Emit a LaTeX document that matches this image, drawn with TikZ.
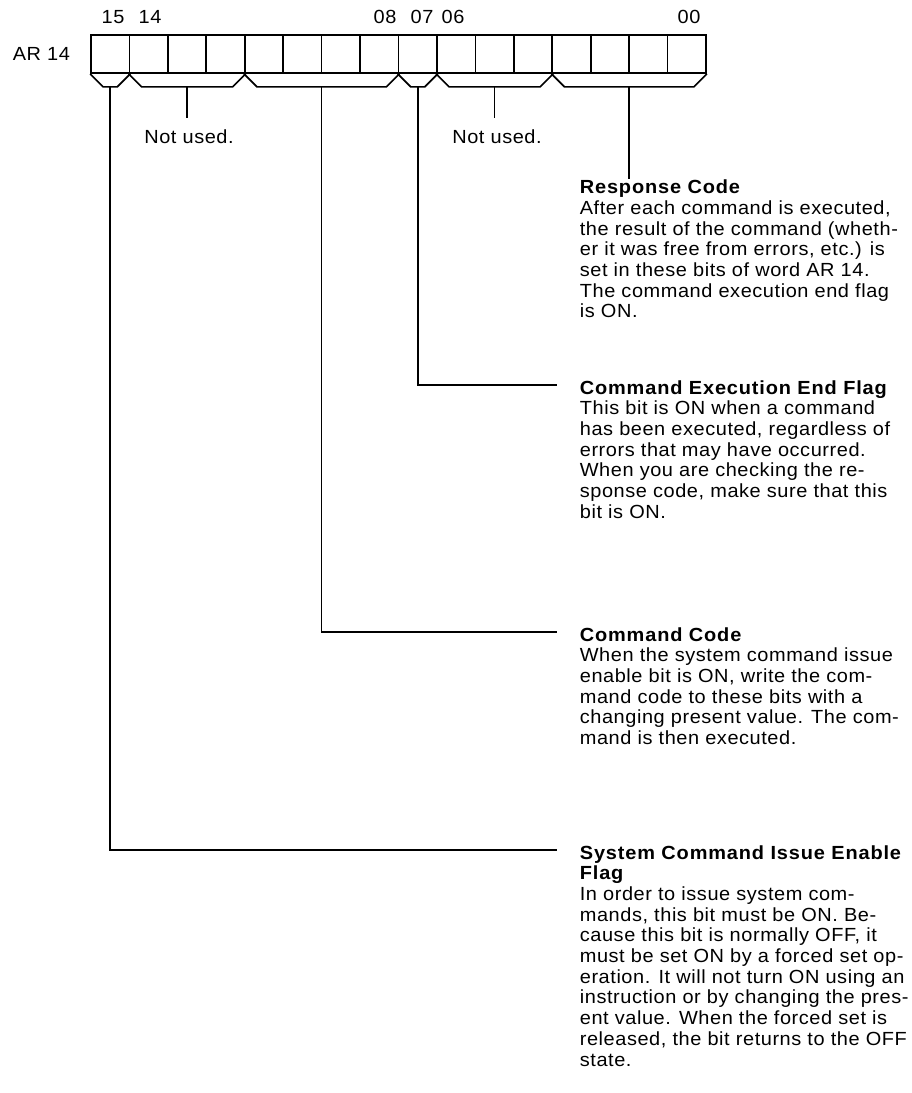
\documentclass[tikz,border=0pt]{standalone}
\usepackage{fontspec}
\setmainfont{Liberation Sans}[FakeStretch=1.05,LetterSpace=3,BoldFeatures={LetterSpace=4.5}]
\usetikzlibrary{calc}
\begin{document}
\begin{tikzpicture}[x=1pt,y=-1pt,line width=1.7pt,
  cell/.style={draw,minimum width=38.44pt,minimum height=38pt,inner sep=0pt,line width=1.7pt},
  lbl/.style={inner sep=0pt,anchor=base,font=\fontsize{19}{20.7}\selectfont},
  desc/.style={inner sep=0pt,anchor=base west,font=\fontsize{19}{20.7}\selectfont},
  wire/.style={line width=1.7pt,line join=miter}]
\useasboundingbox (0,0) rectangle (912,1093);
% register cells, bit 15 on the left
\foreach \i in {0,...,15}{
  \pgfmathtruncatemacro\bb{15-\i}
  \node[cell] (b\bb) at ({91+(\i+0.5)*38.44},54) {};
}
% labels
\node[lbl,anchor=base west] (ar) at (12,60.5) {AR 14};
\node[lbl] (n15) at (113,23) {15};
\node[lbl] (n14) at (150,23) {14};
\node[lbl] (n08) at (385,23) {08};
\node[lbl] (n07) at (422,23) {07};
\node[lbl] (n06) at (453,23) {06};
\node[lbl] (n00) at (689,23) {00};
% brackets under bit groups
\foreach \L/\R/\n in {15/15/a,14/12/b,11/8/c,7/7/d,6/4/e,3/0/f}{
  \draw[wire] (b\L.south west) -- ++(13,13) -- ($(b\R.south east)+(-13,13)$) -- (b\R.south east);
  \coordinate (m\n) at ($(b\L.south west)!0.5!(b\R.south east)+(0,13)$);
}
% not used
\node[lbl] (nu1) at (189,143) {Not used.};
\node[lbl] (nu2) at (497,143) {Not used.};
\draw[wire] (mb) -- ++(0,31) coordinate (eb);
\draw[wire] (me) -- ++(0,31) coordinate (ee);
% descriptions
\node[desc] (resp) at (579,193.7) {\parbox[t]{360pt}{\raggedright
\textbf{Response Code}\\
After each command is executed,\\
the result of the command (wheth-\\
er it was free from errors, etc.) is\\
set in these bits of word AR 14.\\
The command execution end flag\\
is ON.}};
\node[desc] (ceef) at (579,394) {\parbox[t]{360pt}{\raggedright
\textbf{Command Execution End Flag}\\
This bit is ON when a command\\
has been executed, regardless of\\
errors that may have occurred.\\
When you are checking the re-\\
sponse code, make sure that this\\
bit is ON.}};
\node[desc] (cc) at (579,641) {\parbox[t]{360pt}{\raggedright
\textbf{Command Code}\\
When the system command issue\\
enable bit is ON, write the com-\\
mand code to these bits with a\\
changing present value. The com-\\
mand is then executed.}};
\node[desc] (scief) at (579,859) {\parbox[t]{360pt}{\raggedright
\textbf{System Command Issue Enable}\\
\textbf{Flag}\\
In order to issue system com-\\
mands, this bit must be ON. Be-\\
cause this bit is normally OFF, it\\
must be set ON by a forced set op-\\
eration. It will not turn ON using an\\
instruction or by changing the pres-\\
ent value. When the forced set is\\
released, the bit returns to the OFF\\
state.}};
% connectors
\coordinate (t15) at (557,850);
\coordinate (t11) at (557,632);
\coordinate (t7) at (557,385);
\draw[wire] (ma) |- (t15);
\draw[wire] (mc) |- (t11);
\draw[wire] (md) |- (t7);
\draw[wire] (mf) -- ++(0,92) coordinate (t3);
\end{tikzpicture}
\end{document}
